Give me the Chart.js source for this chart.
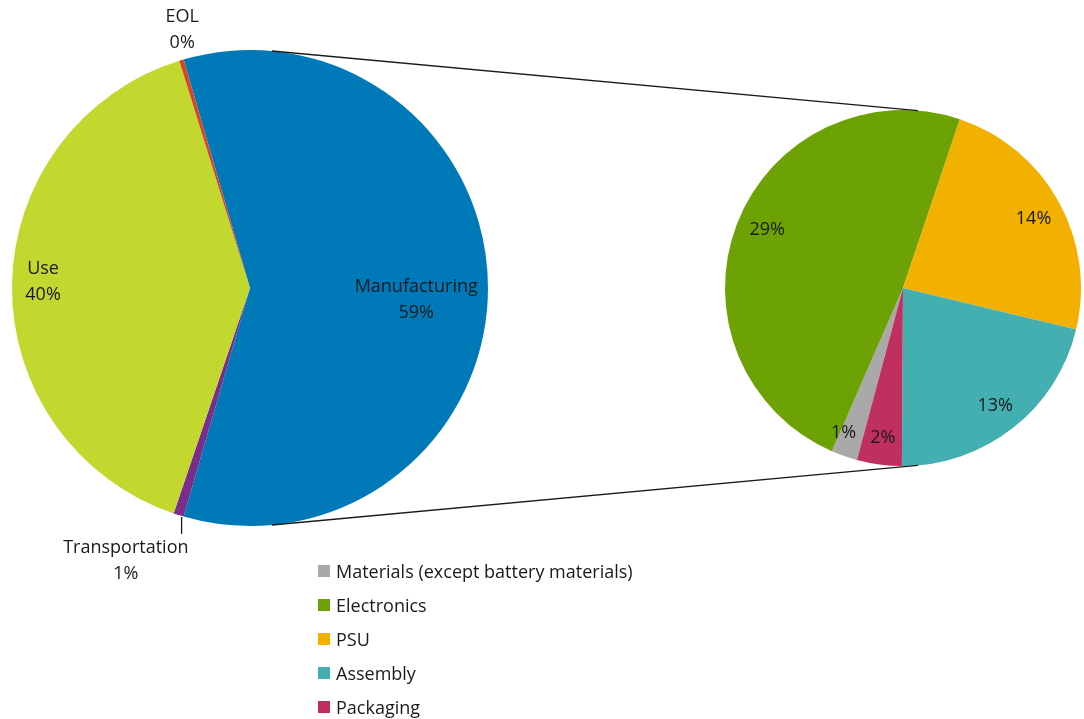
<!DOCTYPE html>
<html>
<head>
<meta charset="utf-8">
<script src="https://cdn.jsdelivr.net/npm/chart.js@4.4.1/dist/chart.umd.min.js"></script>
<style>
  html, body { margin: 0; padding: 0; background: #fff; }
  #wrap { position: relative; width: 1084px; height: 719px; overflow: hidden; font-family: "Open Sans", sans-serif; }
  #wrap canvas { position: absolute; left: 0; top: 0; }
  #legend { position: absolute; left: 318px; top: 554px; color: #1a1a1a; font-size: 18px; }
  #legend .row { height: 34px; display: flex; align-items: center; }
  #legend .sw { width: 12px; height: 12px; margin-right: 6px; }
</style>
</head>
<body>
<div id="wrap">
  <canvas id="mainPie" width="1084" height="719"></canvas>
  <canvas id="subPie" width="1084" height="719"></canvas>
  <div id="legend"></div>
</div>
<script>
// ---- data ----
const mainLabels = ['Manufacturing', 'Transportation', 'Use', 'EOL'];
const mainValues = [59, 0.7, 40, 0.3];
const mainColors = ['#0079B8', '#7A2E8C', '#C2D82E', '#D4462A'];

const subLabels = ['Materials (except battery materials)', 'Electronics', 'PSU', 'Assembly', 'Packaging'];
const subValues = [1.4, 28.7, 13.9, 12.6, 2.4];
const subColors = ['#A9A9A9', '#6DA204', '#F2B000', '#44AFB0', '#C0305E'];

const textColor = '#1a1a1a';
const labelFont = '18px "Open Sans", sans-serif';

// label placement per slice: r = fraction of radius, da = angle nudge (deg), name = show category name
const mainLabelPos = [
  { r: 0.70, da: 4, name: true },
  { r: 1.26, da: 7, name: true, leader: true },
  { r: 0.87, da: 1, name: true },
  { r: 1.12, da: 2, name: true }
];
const subLabelPos = [
  { r: 0.88, da: 3 }, { r: 0.83, da: 2 }, { r: 0.83, da: 1 }, { r: 0.84, da: 0 }, { r: 0.85, da: 0 }
];

const pct = (v) => Math.round(v) + '%';

// draws text labels from arc geometry
function labelPlugin(labels, pos) {
  return {
    id: 'sliceLabels',
    afterDatasetsDraw(chart) {
      const ctx = chart.ctx;
      const arcs = chart.getDatasetMeta(0).data;
      const vals = chart.data.datasets[0].data;
      ctx.save();
      ctx.font = labelFont;
      ctx.fillStyle = textColor;
      ctx.textAlign = 'center';
      ctx.textBaseline = 'middle';
      arcs.forEach((arc, i) => {
        const p = pos[i];
        const mid = (arc.startAngle + arc.endAngle) / 2 + p.da * Math.PI / 180;
        const d = arc.outerRadius * p.r;
        const x = arc.x + Math.cos(mid) * d;
        const y = arc.y + Math.sin(mid) * d;
        const lines = p.name ? [labels[i], pct(vals[i])] : [pct(vals[i])];
        const lh = 26;
        const y0 = y - (lines.length - 1) * lh / 2;
        lines.forEach((t, k) => ctx.fillText(t, x, y0 + k * lh));
        if (p.leader) {
          const m = (arc.startAngle + arc.endAngle) / 2;
          const ex = arc.x + Math.cos(m) * arc.outerRadius + 3;
          const ey = arc.y + Math.sin(m) * arc.outerRadius + 2;
          ctx.strokeStyle = textColor;
          ctx.lineWidth = 1.3;
          ctx.beginPath();
          ctx.moveTo(ex, ey);
          ctx.lineTo(ex, y0 - 14);
          ctx.stroke();
        }
      });
      ctx.restore();
    }
  };
}

const baseOpts = {
  responsive: false,
  animation: false,
  events: [],
  plugins: { legend: { display: false }, tooltip: { enabled: false } }
};

const mainTotal = mainValues.reduce((a, b) => a + b, 0);

const mainChart = new Chart(document.getElementById('mainPie'), {
  type: 'pie',
  data: {
    labels: mainLabels,
    datasets: [{ data: mainValues, backgroundColor: mainColors, borderWidth: 0 }]
  },
  options: Object.assign({}, baseOpts, {
    // Manufacturing centred on 3 o'clock
    rotation: 90 - mainValues[0] / mainTotal * 180,
    layout: { padding: { left: 12, top: 50, right: 596, bottom: 193 } }
  }),
  plugins: [labelPlugin(mainLabels, mainLabelPos)]
});

// connector lines between the two pies
const connector = {
  id: 'connector',
  afterDraw(chart) {
    const a = mainChart.getDatasetMeta(0).data[0];
    const b = chart.getDatasetMeta(0).data[0];
    const angA = 5.3 * Math.PI / 180;
    const angB = 4.8 * Math.PI / 180;
    const ctx = chart.ctx;
    ctx.save();
    ctx.strokeStyle = textColor;
    ctx.lineWidth = 1.3;
    [-1, 1].forEach(s => {
      ctx.beginPath();
      ctx.moveTo(a.x + Math.sin(angA) * a.outerRadius, a.y + s * Math.cos(angA) * a.outerRadius);
      ctx.lineTo(b.x + Math.sin(angB) * b.outerRadius, b.y + s * Math.cos(angB) * b.outerRadius);
      ctx.stroke();
    });
    ctx.restore();
  }
};

new Chart(document.getElementById('subPie'), {
  type: 'pie',
  data: {
    labels: subLabels,
    datasets: [{ data: subValues, backgroundColor: subColors, borderWidth: 0 }]
  },
  options: Object.assign({}, baseOpts, {
    rotation: 195,
    layout: { padding: { left: 725, top: 110, right: 3, bottom: 253 } }
  }),
  plugins: [labelPlugin(subLabels, subLabelPos), connector]
});

// legend
const legend = document.getElementById('legend');
subLabels.forEach((l, i) => {
  const row = document.createElement('div');
  row.className = 'row';
  row.innerHTML = '<span class="sw" style="background:' + subColors[i] + '"></span><span>' + l + '</span>';
  legend.appendChild(row);
});
</script>
</body>
</html>
